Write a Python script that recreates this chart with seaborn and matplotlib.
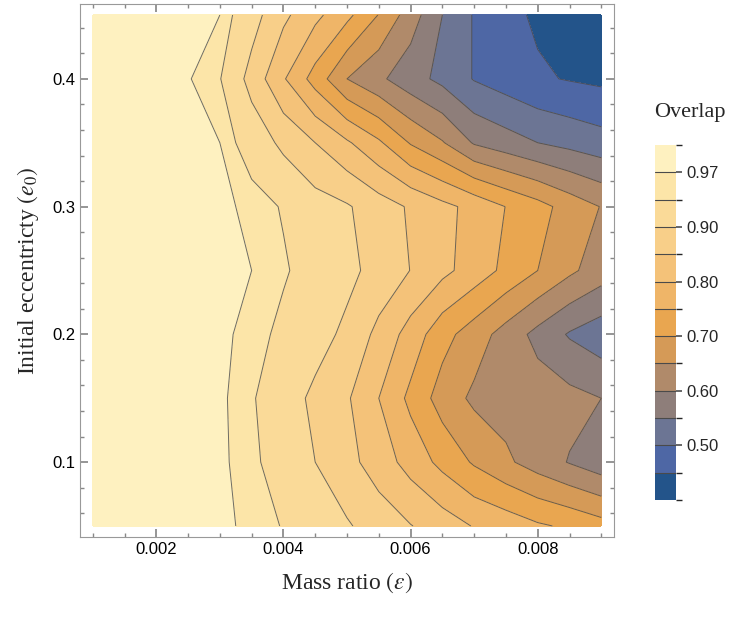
import numpy as np
import matplotlib
matplotlib.use("Agg")
import matplotlib.pyplot as plt
from matplotlib.colors import ListedColormap, BoundaryNorm
import seaborn as sns

sns.set_theme(style="ticks")
plt.rcParams["mathtext.fontset"] = "stix"

mass_ratio = [0.001, 0.0015, 0.002, 0.0025, 0.003, 0.0035, 0.004, 0.0045, 0.005,
              0.0055, 0.006, 0.0065, 0.007, 0.0075, 0.008, 0.0085, 0.009]
eccentricity = [0.05, 0.10, 0.15, 0.20, 0.25, 0.30, 0.35, 0.40, 0.45]

row_005 = [.99, .99, .985, .98, .975, .965, .948, .925, .905, .878, .852, .826, .797, .78, .757, .742, .72]
row_010 = [.99, .99, .985, .98, .975, .958, .93, .90, .866, .826, .781, .736, .694, .659, .627, .597, .57]
row_015 = [.99, .99, .985, .98, .975, .954, .922, .89, .856, .80, .738, .678, .64, .63, .625, .615, .60]
row_020 = [.99, .99, .985, .98, .975, .963, .941, .918, .89, .836, .78, .718, .675, .63, .585, .545, .52]
row_025 = [.99, .99, .985, .98, .975, .97, .954, .934, .912, .884, .849, .813, .778, .738, .70, .66, .625]
row_030 = [.99, .99, .985, .98, .975, .965, .947, .921, .905, .874, .844, .814, .785, .749, .718, .68, .648]
row_035 = [.99, .99, .985, .98, .97, .93, .889, .85, .807, .758, .696, .654, .595, .572, .55, .535, .52]
row_040 = [.99, .985, .98, .972, .952, .883, .805, .73, .65, .61, .57, .537, .497, .476, .456, .447, .44]
row_045 = [.99, .985, .98, .975, .97, .92, .861, .813, .763, .698, .625, .55, .496, .463, .443, .435, .42]

levels = [0.40, 0.45, 0.50, 0.55, 0.60, 0.65, 0.70, 0.75, 0.80, 0.85, 0.90, 0.95, 0.97, 1.0]
band_colors = ["#23548A", "#4E67A5", "#6C7594", "#8E7E7A", "#B08A6A", "#D59A57",
               "#E9A650", "#EFB568", "#F4C279", "#F8CF89", "#FADA98", "#FCE5A8", "#FEF1C0"]
cbar_ticks = [0.50, 0.60, 0.70, 0.80, 0.90, 0.97]

Z = np.array([row_005, row_010, row_015, row_020, row_025, row_030, row_035, row_040, row_045])
X, Y = np.meshgrid(mass_ratio, eccentricity)

cmap = ListedColormap(band_colors)
norm = BoundaryNorm(levels, cmap.N)

fig = plt.figure(figsize=(7.47, 6.22), dpi=100)
ax = fig.add_axes([80/747, 1-537/622, 534/747, 533/622])
cf = ax.contourf(X, Y, Z, levels=levels, cmap=cmap, norm=norm)
ax.contour(X, Y, Z, levels=levels[1:-1], colors="#4a4a4a", linewidths=0.7, alpha=0.8)

ax.set_xlim(0.0008, 0.0092)
ax.set_ylim(0.0414, 0.4586)
ax.set_xticks([0.002, 0.004, 0.006, 0.008])
ax.set_xticklabels(["0.002", "0.004", "0.006", "0.008"])
ax.set_xticks(np.arange(0.001, 0.00901, 0.0005), minor=True)
ax.set_yticks([0.1, 0.2, 0.3, 0.4])
ax.set_yticklabels(["0.1", "0.2", "0.3", "0.4"])
ax.set_yticks(np.arange(0.06, 0.451, 0.02), minor=True)
ax.tick_params(which="both", direction="in", top=True, right=True, color="#888888",
               labelsize=12, labelcolor="black")
ax.tick_params(which="major", length=6)
ax.tick_params(which="minor", length=3)
for lab in ax.get_xticklabels() + ax.get_yticklabels():
    lab.set_fontfamily("Liberation Sans")
for s in ax.spines.values():
    s.set_color("#999999")
    s.set_linewidth(0.8)

ax.set_xlabel(r"Mass ratio $(\epsilon)$", fontfamily="Liberation Serif", fontsize=17, labelpad=10)
ax.set_ylabel(r"Initial eccentricty $(e_0)$", fontfamily="Liberation Serif", fontsize=17, labelpad=8)

cax = fig.add_axes([655/747, 1-500/622, 21/747, 355/622])
cb = fig.colorbar(cf, cax=cax, spacing="uniform", ticks=cbar_ticks)
cb.ax.set_yticklabels(["0.50", "0.60", "0.70", "0.80", "0.90", "0.97"])
cb.ax.tick_params(labelsize=12, length=4, color="#555555", direction="out")
for lab in cb.ax.get_yticklabels():
    lab.set_fontfamily("Liberation Sans")
cb.outline.set_visible(False)
for lv in levels[1:-1]:
    cb.ax.axhline(lv, color="#4a4a4a", linewidth=0.8)
fig.text(690/747, 1-113/622, "Overlap", fontfamily="Liberation Serif", fontsize=16,
         ha="center", va="center")

fig.savefig("out.png", dpi=100)
